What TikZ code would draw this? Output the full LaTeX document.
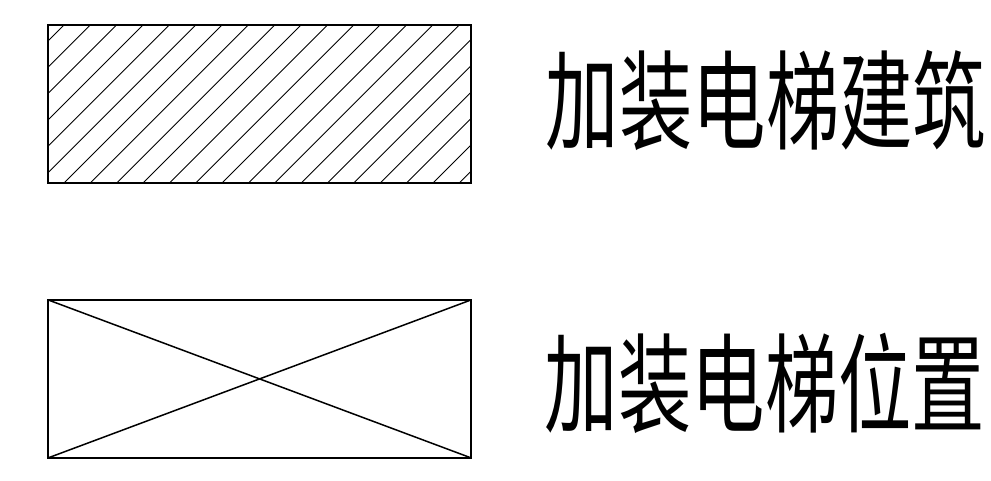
\documentclass[tikz,border=0pt]{standalone}
\usepackage{fontspec}
\usetikzlibrary{calc}
\newfontfamily\cjk{Noto Sans CJK SC}
\tikzset{
  outline/.style={draw=black,line width=1.7pt,minimum width=423pt,minimum height=158pt,inner sep=0pt,outer sep=0pt,anchor=north west},
  hatchline/.style={line width=0.9pt},
  crossline/.style={line width=1.5pt},
  legend/.style={font=\cjk\fontsize{76pt}{76pt}\selectfont,inner sep=0pt,anchor=center,xscale=0.965,yscale=1.42}
}
\begin{document}
\begin{tikzpicture}[x=1pt,y=-1pt]
\useasboundingbox (0,0) rectangle (991,480);
\fill[white] (0,0) rectangle (991,480);
\node[outline] (h) at (48.1,24.9) {};
\begin{scope}
\clip (h.north west) rectangle (h.south east);
\foreach \i in {-6,...,16}{
  \draw[hatchline] ($(h.south west)+(\i*26.35+16,0)$) -- ++(158,-158);
}
\end{scope}
\node[outline] (c) at (48.1,299.9) {};
\draw[crossline] (c.north west) -- (c.south east);
\draw[crossline] (c.north east) -- (c.south west);
\node[legend] (t1) at (766,100) {加装电梯建筑};
\node[legend] (t2) at (765,383.5) {加装电梯位置};
\end{tikzpicture}
\end{document}
